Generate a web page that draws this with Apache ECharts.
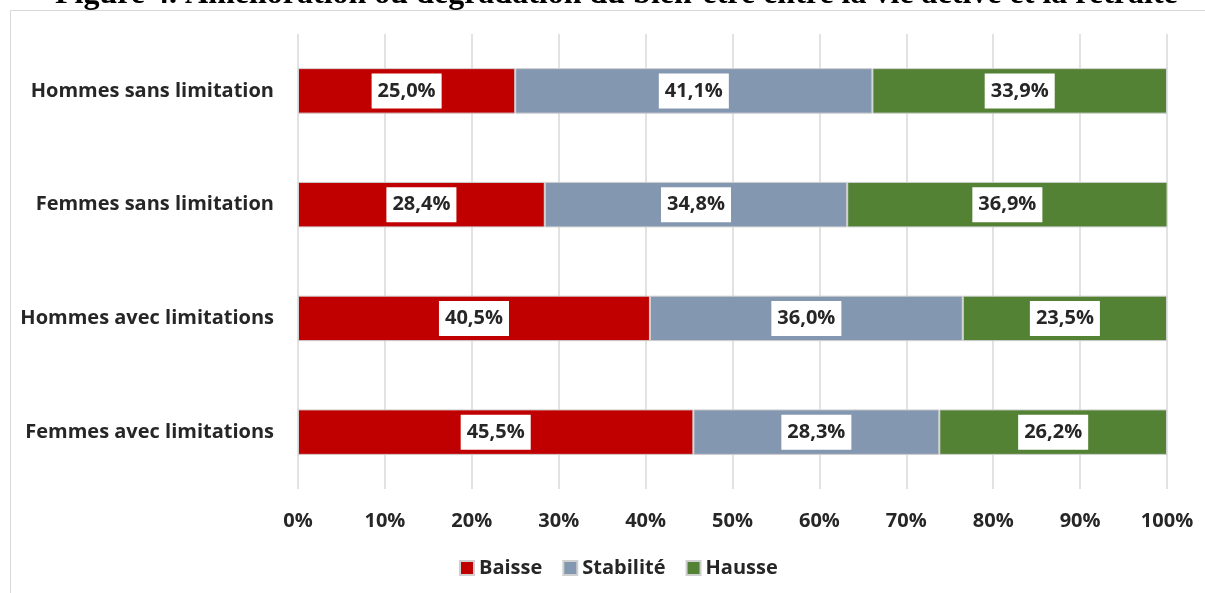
<!DOCTYPE html>
<html>
<head>
<meta charset="utf-8">
<script src="https://cdn.jsdelivr.net/npm/echarts@6/dist/echarts.min.js"></script>
<style>
  html, body { margin: 0; padding: 0; background: #fff; }
  #frame { position: absolute; left: 10px; top: 10px; width: 1210px; height: 600px; border: 1px solid #d9d9d9; }
  #chart { position: absolute; left: 0; top: 0; width: 1205px; height: 593px; }
</style>
</head>
<body>
<div id="frame"></div>
<div id="chart"></div>
<script>
var categories = ['Femmes avec limitations', 'Hommes avec limitations', 'Femmes sans limitation', 'Hommes sans limitation']
var baisse = [45.5, 40.5, 28.4, 25.0]
var stabilite = [28.3, 36.0, 34.8, 41.1]
var hausse = [26.2, 23.5, 36.9, 33.9]
var seriesNames = ['Baisse', 'Stabilité', 'Hausse']
var colors = ['#C00000', '#8497B0', '#548235']

var font = '"Open Sans", "Noto Sans", sans-serif'
var textColor = '#262626'

function makeSeries(name, data, color) {
    return {
        name: name,
        type: 'bar',
        stack: 'total',
        barWidth: '40%',
        data: data,
        itemStyle: { color: color, borderColor: '#d0d0d0', borderWidth: 1 },
        label: {
            show: true,
            position: 'inside',
            formatter: function (p) { return p.value.toFixed(1).replace('.', ',') + '%' },
            backgroundColor: '#fff',
            padding: [7, 6, 6, 6],
            lineHeight: 22,
            color: textColor,
            fontFamily: font,
            fontWeight: 'bold',
            fontSize: 20
        }
    }
}

var myChart = echarts.init(document.getElementById('chart'))
myChart.setOption({
    animation: false,
    title: {
        text: 'Figure 4. Amélioration ou dégradation du bien-être entre la vie active et la retraite',
        left: 50,
        top: -26,
        textStyle: {
            fontFamily: '"Liberation Serif", "DejaVu Serif", serif',
            fontWeight: 'bold',
            fontSize: 32,
            color: '#000'
        }
    },
    grid: { left: 298, right: 38, top: 34, height: 455 },
    legend: {
        data: seriesNames,
        bottom: 10,
        left: 454,
        itemWidth: 14,
        itemHeight: 14,
        itemGap: 20,
        icon: 'rect',
        textStyle: { fontFamily: font, fontWeight: 'bold', fontSize: 20, color: textColor }
    },
    xAxis: {
        type: 'value',
        min: 0,
        max: 100,
        interval: 10,
        axisLine: { show: false },
        axisTick: { show: false },
        splitLine: { lineStyle: { color: '#d9d9d9', width: 1.5 } },
        axisLabel: {
            formatter: '{value}%',
            margin: 22,
            fontFamily: font,
            fontWeight: 'bold',
            fontSize: 20,
            color: textColor
        }
    },
    yAxis: {
        type: 'category',
        data: categories,
        axisLine: { show: false },
        axisTick: { show: false },
        axisLabel: {
            margin: 24,
            fontFamily: font,
            fontWeight: 'bold',
            fontSize: 20,
            color: textColor
        }
    },
    series: [
        makeSeries(seriesNames[0], baisse, colors[0]),
        makeSeries(seriesNames[1], stabilite, colors[1]),
        makeSeries(seriesNames[2], hausse, colors[2])
    ]
})
</script>
</body>
</html>
